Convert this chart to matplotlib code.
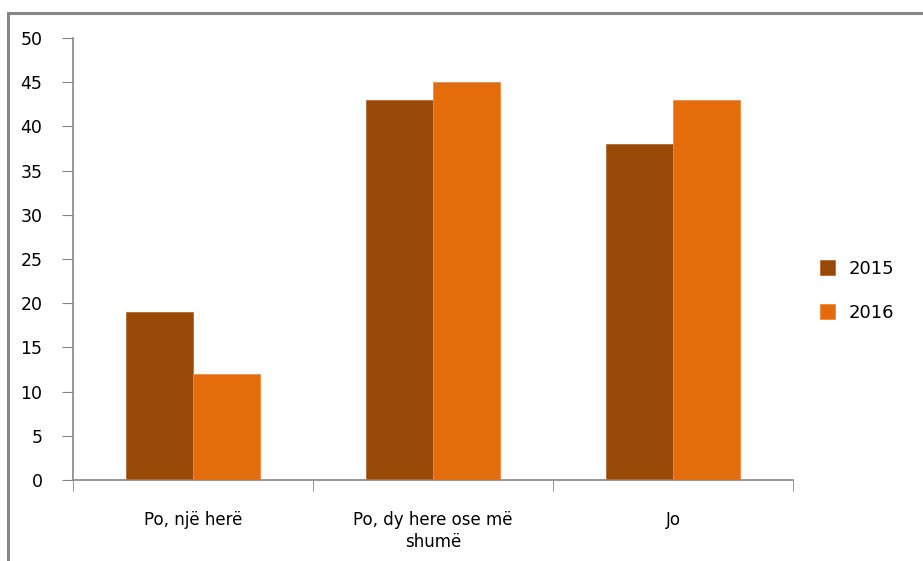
import matplotlib
matplotlib.use('Agg')
import matplotlib.pyplot as plt
from matplotlib.patches import Rectangle
import numpy as np

categories = ['Po, një herë', 'Po, dy here ose më\nshumë', 'Jo']
years = ['2015', '2016']
values_2015 = [19, 43, 38]
values_2016 = [12, 45, 43]
colors = ['#984807', '#E46C0A']

plt.rcParams['font.family'] = ['DejaVu Sans']

fig = plt.figure(figsize=(9.23, 5.61), dpi=100)
ax = fig.add_axes([0.0791, 0.1444, 0.7800, 0.7879])

# outer frame, running off the right and bottom edges
fig.patches.append(Rectangle((8 / 923, -0.05), 1.1, (561 - 13) / 561 + 0.05,
                             transform=fig.transFigure, fill=False,
                             edgecolor='#878787', linewidth=2.2))

x = np.arange(len(categories))
w = 0.28
ax.bar(x - w / 2, values_2015, w, color=colors[0], edgecolor='#B86A30',
       linewidth=0.6, label=years[0])
ax.bar(x + w / 2, values_2016, w, color=colors[1], edgecolor='#F08A40',
       linewidth=0.6, label=years[1])

ax.set_xlim(-0.5, len(categories) - 0.5)
ax.set_ylim(0, 50)
ax.set_yticks(range(0, 51, 5))
ax.set_xticks(x)
ax.set_xticklabels(categories, fontsize=12, linespacing=1.35)
ax.tick_params(axis='x', length=0, pad=22)
ax.tick_params(axis='y', labelsize=12.5, length=8, color='#868686', pad=14)
ax.set_xticks(np.arange(-0.5, len(categories)), minor=True)
ax.tick_params(axis='x', which='minor', length=8, color='#868686', direction='out')

for s in ['top', 'right']:
    ax.spines[s].set_visible(False)
for s in ['left', 'bottom']:
    ax.spines[s].set_color('#868686')
    ax.spines[s].set_linewidth(1.2)

ax.legend(loc='center left', bbox_to_anchor=(1.015, 0.428), frameon=False,
          fontsize=13, handlelength=0.85, handleheight=0.85,
          labelspacing=1.45, handletextpad=0.75)

fig.savefig('out.png', dpi=100)
